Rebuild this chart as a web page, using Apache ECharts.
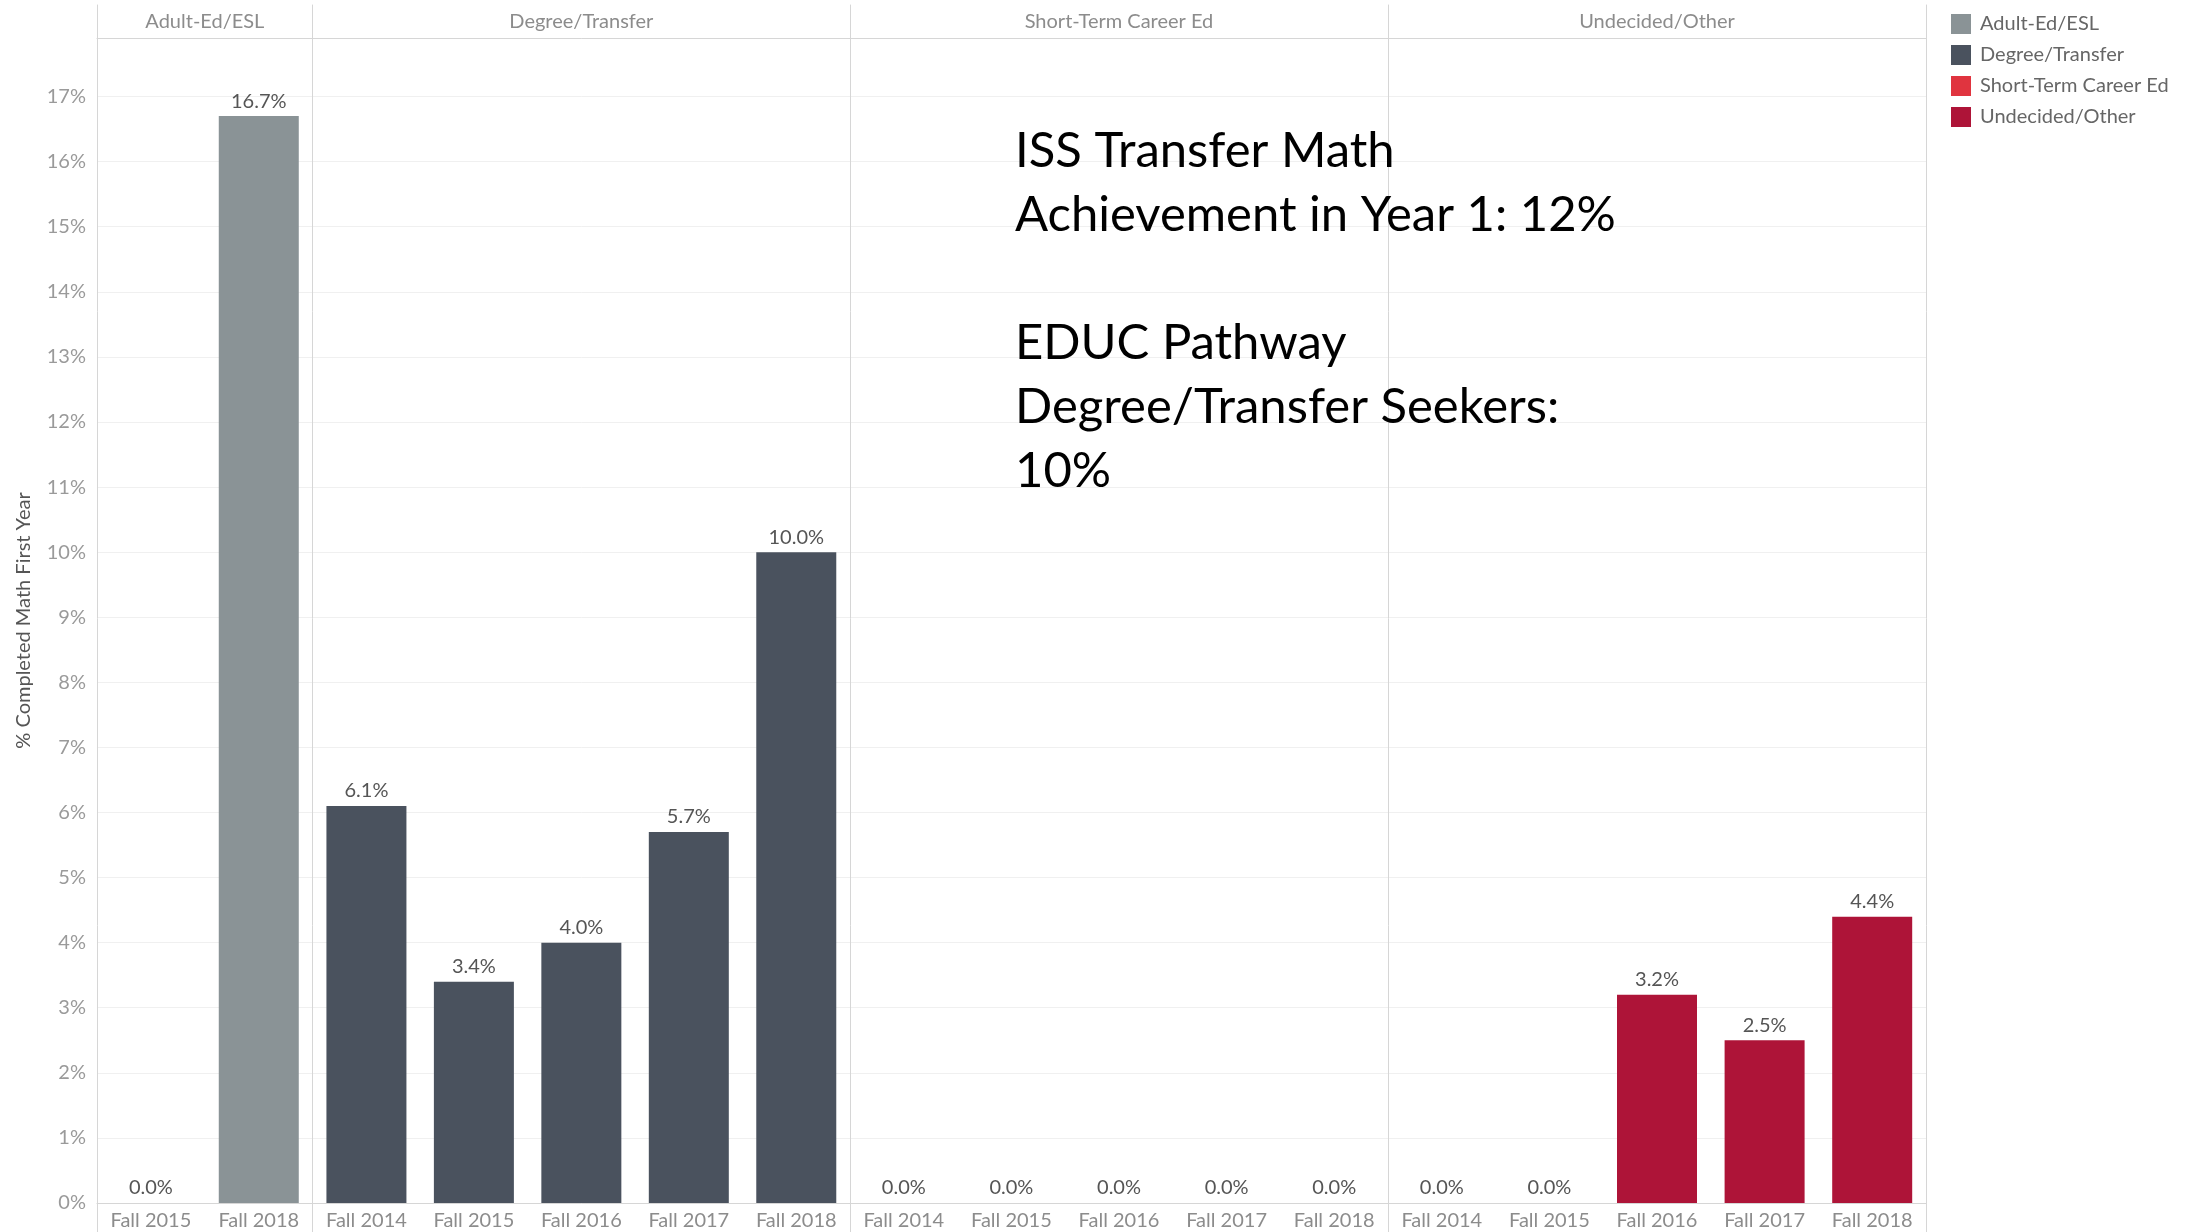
<!DOCTYPE html>
<html>
<head>
<meta charset="utf-8">
<script src="https://cdn.jsdelivr.net/npm/echarts@6/dist/echarts.min.js"></script>
<style>
html,body{margin:0;padding:0;background:#fff;}
#chart{width:2202px;height:1232px;}
</style>
</head>
<body>
<div id="chart"></div>
<script>
// ---- data ----
const panels = ['Adult-Ed/ESL', 'Degree/Transfer', 'Short-Term Career Ed', 'Undecided/Other'];
const adultTerms = ['Fall 2015', 'Fall 2018'];
const adultValues = [0.0, 16.7];
const degreeTerms = ['Fall 2014', 'Fall 2015', 'Fall 2016', 'Fall 2017', 'Fall 2018'];
const degreeValues = [6.1, 3.4, 4.0, 5.7, 10.0];
const shortTerms = ['Fall 2014', 'Fall 2015', 'Fall 2016', 'Fall 2017', 'Fall 2018'];
const shortValues = [0.0, 0.0, 0.0, 0.0, 0.0];
const undecidedTerms = ['Fall 2014', 'Fall 2015', 'Fall 2016', 'Fall 2017', 'Fall 2018'];
const undecidedValues = [0.0, 0.0, 3.2, 2.5, 4.4];
const yAxisTitle = '% Completed Math First Year';
const annotation = 'ISS Transfer Math\nAchievement in Year 1: 12%\n\nEDUC Pathway\nDegree/Transfer Seekers:\n10%';

// ---- style / layout ----
const termsList = [adultTerms, degreeTerms, shortTerms, undecidedTerms];
const valuesList = [adultValues, degreeValues, shortValues, undecidedValues];
const colors = ['#8a9396', '#4a525e', '#e0343f', '#ae1438'];
const W = 2202, H = 1232;
const edges = [97, 312.7, 850, 1388, 1926];
const plotTop = 38, plotBottom = 1203;
const font = 'Lato, "Noto Sans", sans-serif';
const lineColor = '#d6d6d6';

const grids = [], xAxes = [], yAxes = [], series = [];
for (let i = 0; i < 4; i++) {
  grids.push({left: edges[i], right: W - edges[i + 1], top: plotTop, bottom: H - plotBottom, containLabel: false});
  xAxes.push({
    type: 'category', gridIndex: i, position: 'bottom', data: termsList[i],
    axisLine: {show: true, lineStyle: {color: lineColor, width: 1}},
    axisTick: {show: false},
    axisLabel: {color: '#8c8c8c', fontSize: 20, fontFamily: font, margin: 8, interval: 0}
  });
  xAxes.push({
    type: 'category', gridIndex: i, position: 'top', data: [panels[i]],
    axisLine: {show: true, lineStyle: {color: lineColor, width: 1}},
    axisTick: {show: false},
    axisLabel: {color: '#8c8c8c', fontSize: 20, fontFamily: font, margin: 6}
  });
  yAxes.push({
    type: 'value', gridIndex: i, min: 0, max: 17.9, interval: 1,
    name: i === 0 ? yAxisTitle : '',
    nameLocation: 'middle', nameGap: 63, nameRotate: 90,
    nameTextStyle: {color: '#555', fontSize: 20, fontFamily: font},
    axisLine: {show: false}, axisTick: {show: false},
    axisLabel: {show: i === 0, color: '#9a9a9a', fontSize: 20, fontFamily: font, margin: 11,
      formatter: v => (Math.abs(v - Math.round(v)) < 1e-6 ? Math.round(v) + '%' : '')},
    splitLine: {show: true, lineStyle: {color: '#f0f0f0', width: 1}}
  });
  series.push({
    name: panels[i], type: 'bar', xAxisIndex: 2 * i, yAxisIndex: i,
    data: valuesList[i], barWidth: 80,
    itemStyle: {color: colors[i]},
    label: {show: true, position: 'top', distance: 5, color: '#555', fontSize: 20, fontFamily: font,
      formatter: p => p.value.toFixed(1) + '%'},
    emphasis: {disabled: true}
  });
}
// overlay grids for full-height panel divider lines
for (let i = 0; i < 4; i++) {
  const gi = grids.length;
  grids.push({left: edges[i], right: W - edges[i + 1], top: 5, bottom: 0});
  xAxes.push({type: 'value', gridIndex: gi, show: false, min: 0, max: 1});
  yAxes.push({type: 'value', gridIndex: gi, min: 0, max: 1, position: 'left',
    axisLine: {show: true, onZero: false, lineStyle: {color: lineColor, width: 1}},
    axisTick: {show: false}, axisLabel: {show: false}, splitLine: {show: false}});
  if (i === 3) {
    yAxes.push({type: 'value', gridIndex: gi, min: 0, max: 1, position: 'right',
      axisLine: {show: true, onZero: false, lineStyle: {color: lineColor, width: 1}},
      axisTick: {show: false}, axisLabel: {show: false}, splitLine: {show: false}});
  }
}

const chart = echarts.init(document.getElementById('chart'));
chart.setOption({
  backgroundColor: '#fff',
  animation: false,
  title: {
    text: annotation, left: 1010, top: 114,
    textStyle: {color: '#000', fontSize: 49, fontWeight: 'normal', fontFamily: font, lineHeight: 64}
  },
  legend: {
    orient: 'vertical', left: 1946, top: 9,
    icon: 'rect', itemWidth: 20, itemHeight: 20, itemGap: 11,
    textStyle: {color: '#666', fontSize: 20, fontFamily: font, padding: [0, 0, 0, 4]},
    data: panels
  },
  grid: grids, xAxis: xAxes, yAxis: yAxes, series: series
});
</script>
</body>
</html>
